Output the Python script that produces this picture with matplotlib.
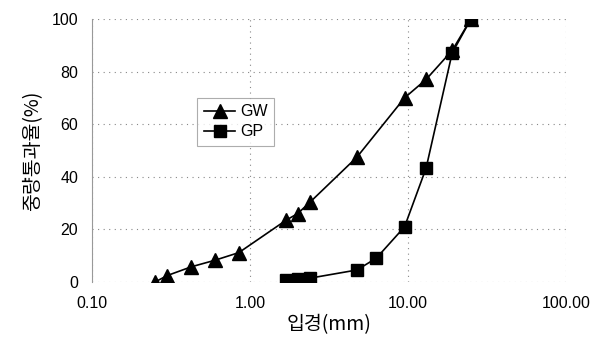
import matplotlib
matplotlib.use("Agg")
import matplotlib.pyplot as plt

# sieve sizes (mm) and percent passing
gw_size = [0.25, 0.3, 0.425, 0.6, 0.85, 1.7, 2.0, 2.4, 4.75, 9.5, 13, 19, 25]
gw_pass = [0, 2.5, 5.8, 8.3, 11.2, 23.6, 26, 30.4, 47.5, 70, 77, 88, 100]

gp_size = [1.7, 2.0, 2.4, 4.75, 6.3, 9.5, 13, 19, 25]
gp_pass = [0.8, 1.1, 1.5, 4.6, 9.1, 21, 43.3, 87, 100]

x_ticks = [0.1, 1, 10, 100]
x_labels = ["0.10", "1.00", "10.00", "100.00"]
y_ticks = [0, 20, 40, 60, 80, 100]

plt.rcParams['font.family'] = ['Liberation Sans', 'Noto Sans CJK KR', 'DejaVu Sans']

fig = plt.figure(figsize=(6.01, 3.44), dpi=100)
ax = fig.add_axes([0.153, 0.180, 0.789, 0.765])

ax.plot(gw_size, gw_pass, 'k-', marker='^', markersize=10, linewidth=1.2, label='GW')
ax.plot(gp_size, gp_pass, 'k-', marker='s', markersize=9, linewidth=1.2, label='GP')

ax.set_xscale('log')
ax.set_xlim(0.1, 100)
ax.set_ylim(0, 100)
ax.set_xticks(x_ticks)
ax.set_xticklabels(x_labels)
ax.minorticks_off()
ax.set_yticks(y_ticks)
ax.tick_params(labelsize=11.5, length=0, pad=10)

for s in ['top', 'right', 'bottom']:
    ax.spines[s].set_visible(False)
ax.spines['left'].set_color('#999999')
ax.spines['left'].set_linewidth(0.8)

ax.grid(True, axis='both', linestyle=(0, (1, 4)), color='#888888', linewidth=0.8)
ax.set_axisbelow(True)

ax.set_xlabel('입경(mm)', fontsize=14, family=['Noto Sans CJK KR', 'DejaVu Sans'], labelpad=2)
ax.set_ylabel('중량통과율(%)', fontsize=14, family=['Noto Sans CJK KR', 'DejaVu Sans'], labelpad=6)

leg = ax.legend(loc='upper left', bbox_to_anchor=(0.205, 0.73), fontsize=11.5,
                fancybox=False, handlelength=2.0, borderpad=0.4, labelspacing=0.3,
                handletextpad=0.3)
leg.get_frame().set_edgecolor('#999999')
leg.get_frame().set_linewidth(0.8)

fig.savefig('out.png', dpi=100)
